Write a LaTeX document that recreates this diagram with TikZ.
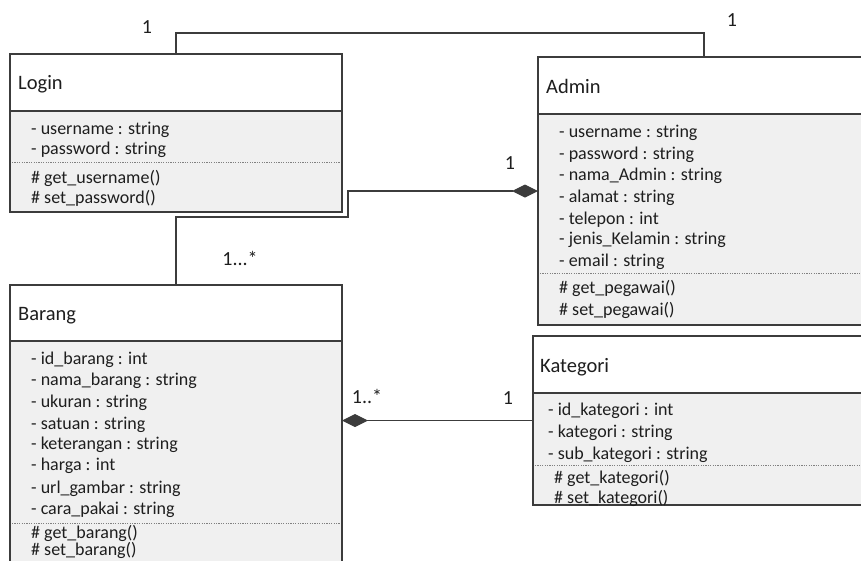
\documentclass[tikz,border=0pt]{standalone}
\usepackage{fontspec}
\setmainfont{Carlito}
\usetikzlibrary{arrows.meta}
\definecolor{boxline}{HTML}{3C3C3C}
\definecolor{bodyfill}{HTML}{F0F0F0}
\definecolor{txt}{HTML}{1E1E1E}
\begin{document}
\begin{tikzpicture}[x=1pt,y=-1pt,
  classbox/.style={draw=boxline,fill=bodyfill,line width=1.2pt,inner sep=0,outer sep=0},
  hdr/.style={draw=boxline,fill=white,line width=1.2pt},
  sepline/.style={draw=gray,line width=0.9pt,dash pattern=on 1.2pt off 1.2pt},
  attr/.style={anchor=base west,inner sep=0,font=\fontsize{18}{20}\selectfont,text=txt},
  title/.style={anchor=base west,inner sep=0,font=\fontsize{20.5}{24}\selectfont,text=txt},
  conn/.style={draw=boxline,line width=1.1pt},
  mult/.style={inner sep=0,font=\fontsize{20}{22}\selectfont,text=txt},
  comp/.style={{Diamond[length=26pt,width=13pt]}-}
]
\useasboundingbox (0,0) rectangle (861,560);
\clip (0,0) rectangle (861,560);

% ---------- Login ----------
\node[classbox,minimum width=332pt,minimum height=158pt] (login) at (176,133) {};
\draw[hdr] (10,54) rectangle (342,111);
\draw[sepline] (12,162) -- (340,162);
\node[title] (loginT) at (18,89) {Login};
\node[attr] (l1) at (31,134) {- username : string};
\node[attr] (l2) at (31,154) {- password : string};
\node[attr] (l3) at (31,183) {\# get\_username()};
\node[attr] (l4) at (31,203) {\# set\_password()};

% ---------- Admin ----------
\node[classbox,minimum width=362pt,minimum height=268pt] (admin) at (719,191) {};
\draw[hdr] (538,57) rectangle (900,114);
\draw[sepline] (540,273) -- (900,273);
\node[title] (adminT) at (546,93) {Admin};
\node[attr] (a1) at (559,137) {- username : string};
\node[attr] (a2) at (559,159) {- password : string};
\node[attr] (a3) at (559,180) {- nama\_Admin : string};
\node[attr] (a4) at (559,202) {- alamat : string};
\node[attr] (a5) at (559,224) {- telepon : int};
\node[attr] (a6) at (559,244) {- jenis\_Kelamin : string};
\node[attr] (a7) at (559,266) {- email : string};
\node[attr] (a8) at (559,293) {\# get\_pegawai()};
\node[attr] (a9) at (559,315) {\# set\_pegawai()};

% ---------- Barang ----------
\node[classbox,minimum width=332pt,minimum height=315pt] (barang) at (176,442.5) {};
\draw[hdr] (10,285) rectangle (342,341);
\draw[sepline] (12,523) -- (340,523);
\node[title] (barangT) at (18,320) {Barang};
\node[attr] (b1) at (31,364) {- id\_barang : int};
\node[attr] (b2) at (31,385) {- nama\_barang : string};
\node[attr] (b3) at (31,407) {- ukuran : string};
\node[attr] (b4) at (31,429) {- satuan : string};
\node[attr] (b5) at (31,449) {- keterangan : string};
\node[attr] (b6) at (31,470) {- harga : int};
\node[attr] (b7) at (31,493) {- url\_gambar : string};
\node[attr] (b8) at (31,514) {- cara\_pakai : string};
\node[attr] (b9) at (31,538) {\# get\_barang()};
\node[attr] (b10) at (31,555) {\# set\_barang()};

% ---------- Kategori ----------
\node[classbox,minimum width=367pt,minimum height=169pt] (kategori) at (716.5,420.5) {};
\draw[hdr] (533,336) rectangle (900,393);
\draw[sepline] (535,465) -- (900,465);
\node[title] (kategoriT) at (540,372) {Kategori};
\node[attr] (k1) at (548,415) {- id\_kategori : int};
\node[attr] (k2) at (548,437) {- kategori : string};
\node[attr] (k3) at (548,459) {- sub\_kategori : string};
\node[attr] (k4) at (554,483) {\# get\_kategori()};
\node[attr] (k5) at (554,503) {\# set\_kategori()};

% ---------- Connectors ----------
\coordinate (c1) at (704,33);
\draw[conn] (login.north) |- (c1) -- (c1 |- admin.north);

\coordinate (c2) at (348,217);
\draw[conn,comp] (admin.west) -| (c2) -| (barang.north);

\draw[conn,comp] (kategori.west -| barang.east) -- (kategori.west);

% ---------- Multiplicities ----------
\node[mult] (m1) at (147,27) {1};
\node[mult] (m2) at (732,20) {1};
\node[mult] (m3) at (510,163) {1};
\node[mult] (m4) at (240,258) {1...*};
\node[mult] (m5) at (367,396) {1..*};
\node[mult] (m6) at (508,398) {1};
\end{tikzpicture}
\end{document}
